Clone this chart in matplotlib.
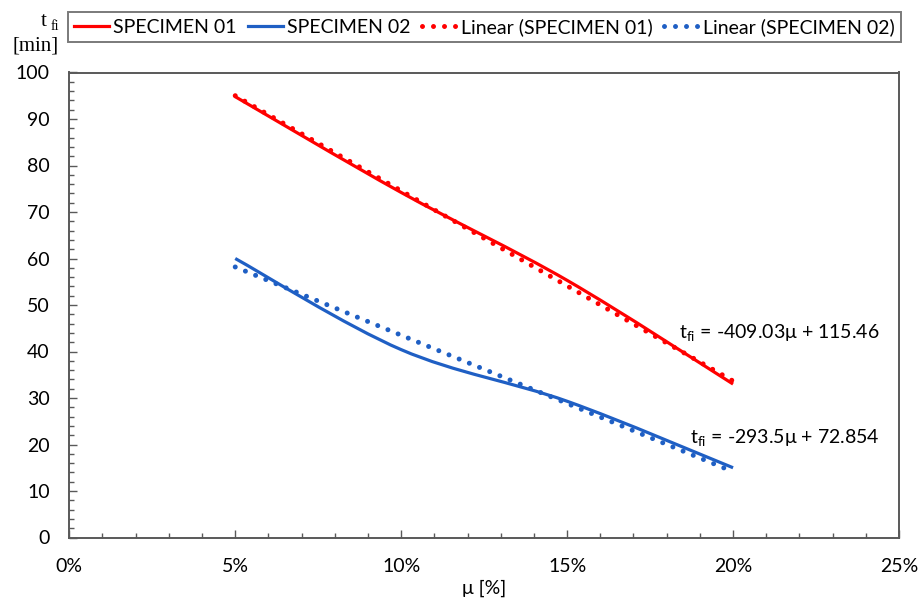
import matplotlib
matplotlib.use("Agg")
import matplotlib.pyplot as plt
from matplotlib.path import Path
from matplotlib.patches import PathPatch
from matplotlib.lines import Line2D
from matplotlib.ticker import MultipleLocator, PercentFormatter

plt.rcParams['font.family'] = ['Lato', 'DejaVu Sans']
plt.rcParams['mathtext.fontset'] = 'custom'
plt.rcParams['mathtext.rm'] = 'Lato'
plt.rcParams['mathtext.it'] = 'Lato:italic'

# measured points (mu as fraction, t_fi in min)
mu = [0.05, 0.10, 0.15, 0.20]
spec01 = [94.8, 74.2, 55.3, 33.0]
spec02 = [60.0, 40.4, 29.3, 15.0]

# trendline coefficients as printed on the chart
fit01 = (-409.03, 115.46)
fit02 = (-293.5, 72.854)
fit_range = [0.05, 0.20]

red = '#FF0000'
blue = '#1F5FC4'
axis_grey = '#595959'
fs = 14


def smooth_path(xs, ys):
    # Excel style smoothed line: cubic bezier through the points
    pts = list(zip(xs, ys))
    verts = [pts[0]]
    codes = [Path.MOVETO]
    for i in range(len(pts) - 1):
        p0 = pts[i - 1] if i > 0 else pts[i]
        p1 = pts[i]
        p2 = pts[i + 1]
        p3 = pts[i + 2] if i + 2 < len(pts) else pts[i + 1]
        c1 = (p1[0] + (p2[0] - p0[0]) / 6, p1[1] + (p2[1] - p0[1]) / 6)
        c2 = (p2[0] - (p3[0] - p1[0]) / 6, p2[1] - (p3[1] - p1[1]) / 6)
        verts += [c1, c2, p2]
        codes += [Path.CURVE4] * 3
    return Path(verts, codes)


fig = plt.figure(figsize=(9.21, 6.07), dpi=100)
ax = fig.add_axes([69.3 / 921, 1 - 537.5 / 607, (899 - 69.3) / 921, (537.5 - 72.5) / 607])

line_w = 2.3
dot_style = (0, (0.001, 2.2))

for ys, col in [(spec01, red), (spec02, blue)]:
    ax.add_patch(PathPatch(smooth_path(mu, ys), fill=False, edgecolor=col,
                           linewidth=line_w, capstyle='butt', zorder=3))

for (a, b), col in [(fit01, red), (fit02, blue)]:
    ys = [a * x + b for x in fit_range]
    ax.plot(fit_range, ys, color=col, linewidth=3.6, linestyle=dot_style,
            dash_capstyle='round', zorder=4)

ax.set_xlim(0, 0.25)
ax.set_ylim(0, 100)
ax.xaxis.set_major_locator(MultipleLocator(0.05))
ax.xaxis.set_minor_locator(MultipleLocator(0.01))
ax.xaxis.set_major_formatter(PercentFormatter(xmax=1, decimals=0))
ax.yaxis.set_major_locator(MultipleLocator(10))
ax.yaxis.set_minor_locator(MultipleLocator(2))

for s in ax.spines.values():
    s.set_color(axis_grey)
    s.set_linewidth(1.4)

ax.tick_params(which='both', direction='in', color=axis_grey, width=1.0,
               top=False, right=False, labelsize=fs, labelcolor='black')
ax.tick_params(which='major', length=6)
ax.tick_params(which='minor', length=3.8)
ax.tick_params(axis='y', which='major', pad=14)
ax.tick_params(axis='x', which='major', pad=15)

ax.set_xlabel('μ [%]', fontsize=fs, labelpad=3)

# equations
ax.text(0.2443, 44.0, r'$\mathrm{t_{fi}}$ = -409.03μ + 115.46', ha='right', va='center',
        fontsize=fs)
ax.text(0.2443, 21.6, r'$\mathrm{t_{fi}}$ = -293.5μ + 72.854', ha='right', va='center',
        fontsize=fs)

# y axis title, top left
fig.text(44 / 921, 1 - 22 / 607, 't', family='Liberation Serif', fontsize=15,
         ha='center', va='center')
fig.text(55 / 921, 1 - 27 / 607, 'fi', family='Liberation Serif', fontsize=10,
         ha='center', va='center')
fig.text(36 / 921, 1 - 46 / 607, '[min]', family='Liberation Serif', fontsize=15,
         ha='center', va='center')

handles = [
    Line2D([], [], color=red, linewidth=line_w),
    Line2D([], [], color=blue, linewidth=line_w),
    Line2D([], [], color=red, linewidth=3.6, linestyle=dot_style, dash_capstyle='round'),
    Line2D([], [], color=blue, linewidth=3.6, linestyle=dot_style, dash_capstyle='round'),
]
labels = ['SPECIMEN 01', 'SPECIMEN 02', 'Linear (SPECIMEN 01)', 'Linear (SPECIMEN 02)']
leg = fig.legend(handles, labels, loc='upper left', bbox_to_anchor=(68 / 921, 1 - 12 / 607),
                 ncol=4, fontsize=fs, frameon=True, fancybox=False,
                 handlelength=1.8, handletextpad=0.2, columnspacing=0.6,
                 borderpad=0.3, borderaxespad=0)
leg.get_frame().set_edgecolor(axis_grey)
leg.get_frame().set_linewidth(1.4)

fig.savefig('out.png', dpi=100)
